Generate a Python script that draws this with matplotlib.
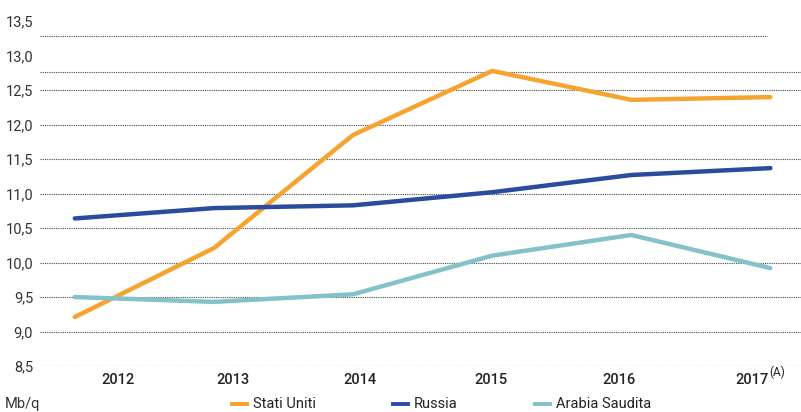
import matplotlib
matplotlib.use("Agg")
import matplotlib.pyplot as plt
from matplotlib.lines import Line2D

plt.rcParams['font.family'] = ['Roboto', 'DejaVu Sans']

# data (Mb/g)
years = [2012, 2013, 2014, 2015, 2016, 2017]
stati_uniti = [9.21, 10.21, 11.85, 12.78, 12.36, 12.40]
russia = [10.64, 10.79, 10.83, 11.02, 11.27, 11.37]
arabia_saudita = [9.50, 9.43, 9.54, 10.10, 10.40, 9.92]

series_names = ['Stati Uniti', 'Russia', 'Arabia Saudita']
colors = ['#F5A42F', '#2B4C9E', '#84C2CA']

y_ticks = [8.5, 9.0, 9.5, 10.0, 10.5, 11.0, 11.5, 12.0, 12.5, 13.0, 13.5]
y_labels = ['8,5', '9,0', '9,5', '10,0', '10,5', '11,0', '11,5', '12,0', '12,5', '13,0', '13,5']
x_labels = ['2012', '2013', '2014', '2015', '2016', '2017']
# the year labels sit a bit off the data points in the original
x_label_pos = [2012.31, 2013.14, 2014.05, 2014.99, 2015.91, 2016.87]

fig = plt.figure(figsize=(8.01, 4.12), dpi=100)
ax = fig.add_axes([40 / 801, 46 / 412, 761 / 801, 1 - 46 / 412 - 4 / 412])

# dotted grid lines (the top two are drawn off the tick rows in the scan)
grid_vals = [8.5, 9.0, 9.5, 10.0, 10.5, 11.0, 11.5, 12.0, 12.5, 12.76]
for g in grid_vals:
    ax.axhline(g, color='#444444', lw=0.8, ls=(0, (1, 1)), zorder=1)
ax.axhline(13.28, xmax=0.955, color='#444444', lw=0.8, ls=(0, (1, 1)), zorder=1)

for vals, c in zip([stati_uniti, russia, arabia_saudita], colors):
    ax.plot(years, vals, color=c, lw=3.2, solid_capstyle='round',
            solid_joinstyle='round', zorder=3)

ax.set_xlim(2011.75, 2017.22)
ax.set_ylim(8.5, 13.75)
ax.set_yticks(y_ticks)
ax.set_yticklabels(y_labels)
ax.set_xticks(x_label_pos)
ax.set_xticklabels(x_labels, fontweight='medium')
ax.tick_params(axis='y', length=0, pad=5, labelsize=10.5, labelcolor='#333333')
ax.tick_params(axis='x', length=0, pad=5, labelsize=10.5, labelcolor='#222222')
for s in ax.spines.values():
    s.set_visible(False)

# superscript note on the last year
ax.annotate('(A)', xy=(x_label_pos[-1], 8.5), xycoords='data',
            xytext=(12, -4.5), textcoords='offset points', fontsize=8.5,
            color='#222222', va='center', ha='left')

# bottom legend
fig.text(5 / 801, 1 - 404 / 412, 'Mb/q', fontsize=10.5, color='#333333', va='center')
legend_x = [232, 393, 535]
for name, c, lx in zip(series_names, colors, legend_x):
    yy = 1 - 404 / 412
    fig.add_artist(Line2D([lx / 801, (lx + 15) / 801], [yy, yy], color=c, lw=2.8))
    fig.text((lx + 21) / 801, yy, name, fontsize=10.5, color='#222222', va='center')

fig.savefig('out.png', dpi=100)
